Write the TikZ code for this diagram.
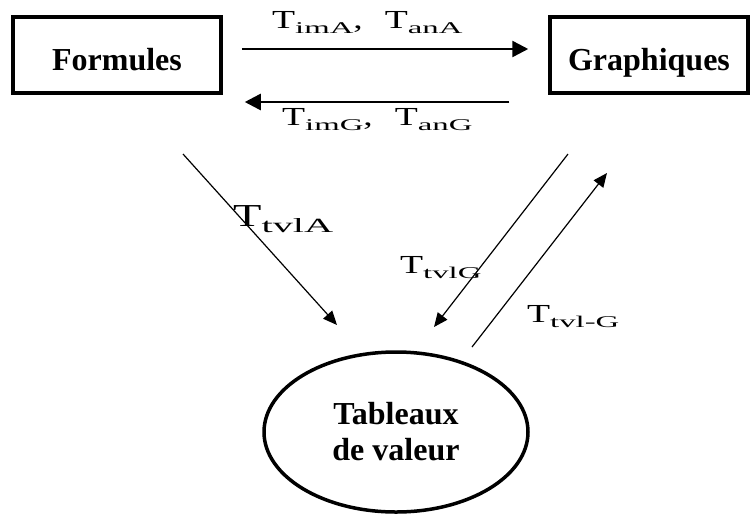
\documentclass[tikz,border=0pt]{standalone}
\usepackage{fontspec}
\usepackage{graphicx}
\setmainfont{Liberation Serif}
\newfontfamily\tfont[FakeStretch=1.45]{Liberation Serif}
\newfontfamily\subfont[FakeStretch=2.0]{Liberation Serif}
\usetikzlibrary{arrows.meta, shapes.geometric}
\newcommand{\trans}[1]{{\tfont T}\raisebox{-0.2em}{\subfont\scalebox{0.63}{#1}}}
\tikzset{
  mainbox/.style={draw, line width=3.5pt, minimum width=208pt, minimum height=76pt, inner sep=0pt, text height=32pt, text depth=2pt, font=\fontsize{32}{36}\selectfont\bfseries},
  valbox/.style={draw, ellipse, line width=3.5pt, minimum width=264pt, minimum height=160pt, inner sep=0pt, align=center, font=\fontsize{32}{36}\selectfont\bfseries},
  arrow/.style={-{Triangle[length=16pt, width=16pt]}, line width=2.5pt},
  thinarrow/.style={-{Triangle[length=14pt, width=12pt]}, line width=1.2pt},
  trlabel/.style={inner sep=0pt, anchor=base west, font=\fontsize{26}{30}\selectfont}
}
\begin{document}
\begin{tikzpicture}[x=1pt, y=-1pt]
\useasboundingbox (0,0) rectangle (752,515);
\node[mainbox] (form) at (117,55) {Formules};
\node[mainbox, minimum width=198pt] (graph) at (649,55) {Graphiques};
\node[valbox] (val) at (396,432) {Tableaux\\de valeur};

% free ends of the slanted arrows
\coordinate (fa) at (183,154);
\coordinate (va) at (337,325);
\coordinate (gb) at (568,154);
\coordinate (vb) at (434,327);
\coordinate (vc) at (472,347);
\coordinate (gc) at (607,173);

\draw[arrow, shorten <=19pt, shorten >=20pt] ([yshift=6pt]form.east) -- ([yshift=6pt]graph.west);
\draw[arrow, shorten <=39pt, shorten >=22pt] ([yshift=-47pt]graph.west) -- ([yshift=-47pt]form.east);
\draw[thinarrow] (fa) -- (va);
\draw[thinarrow] (gb) -- (vb);
\draw[thinarrow] (vc) -- (gc);

\node[trlabel] (labA) at (272,28) {\trans{imA}{\tfont,}\hspace{22pt}\trans{anA}};
\node[trlabel] (labG) at (282,125) {\trans{imG}{\tfont,}\hspace{22pt}\trans{anG}};
\node[trlabel, font=\fontsize{32}{36}\selectfont] (labTA) at (233,226) {\trans{tvlA}};
\node[trlabel] (labTG) at (400,273) {\trans{tvlG}};
\node[trlabel] (labTGb) at (527,322) {\trans{tvl-G}};
\end{tikzpicture}
\end{document}
